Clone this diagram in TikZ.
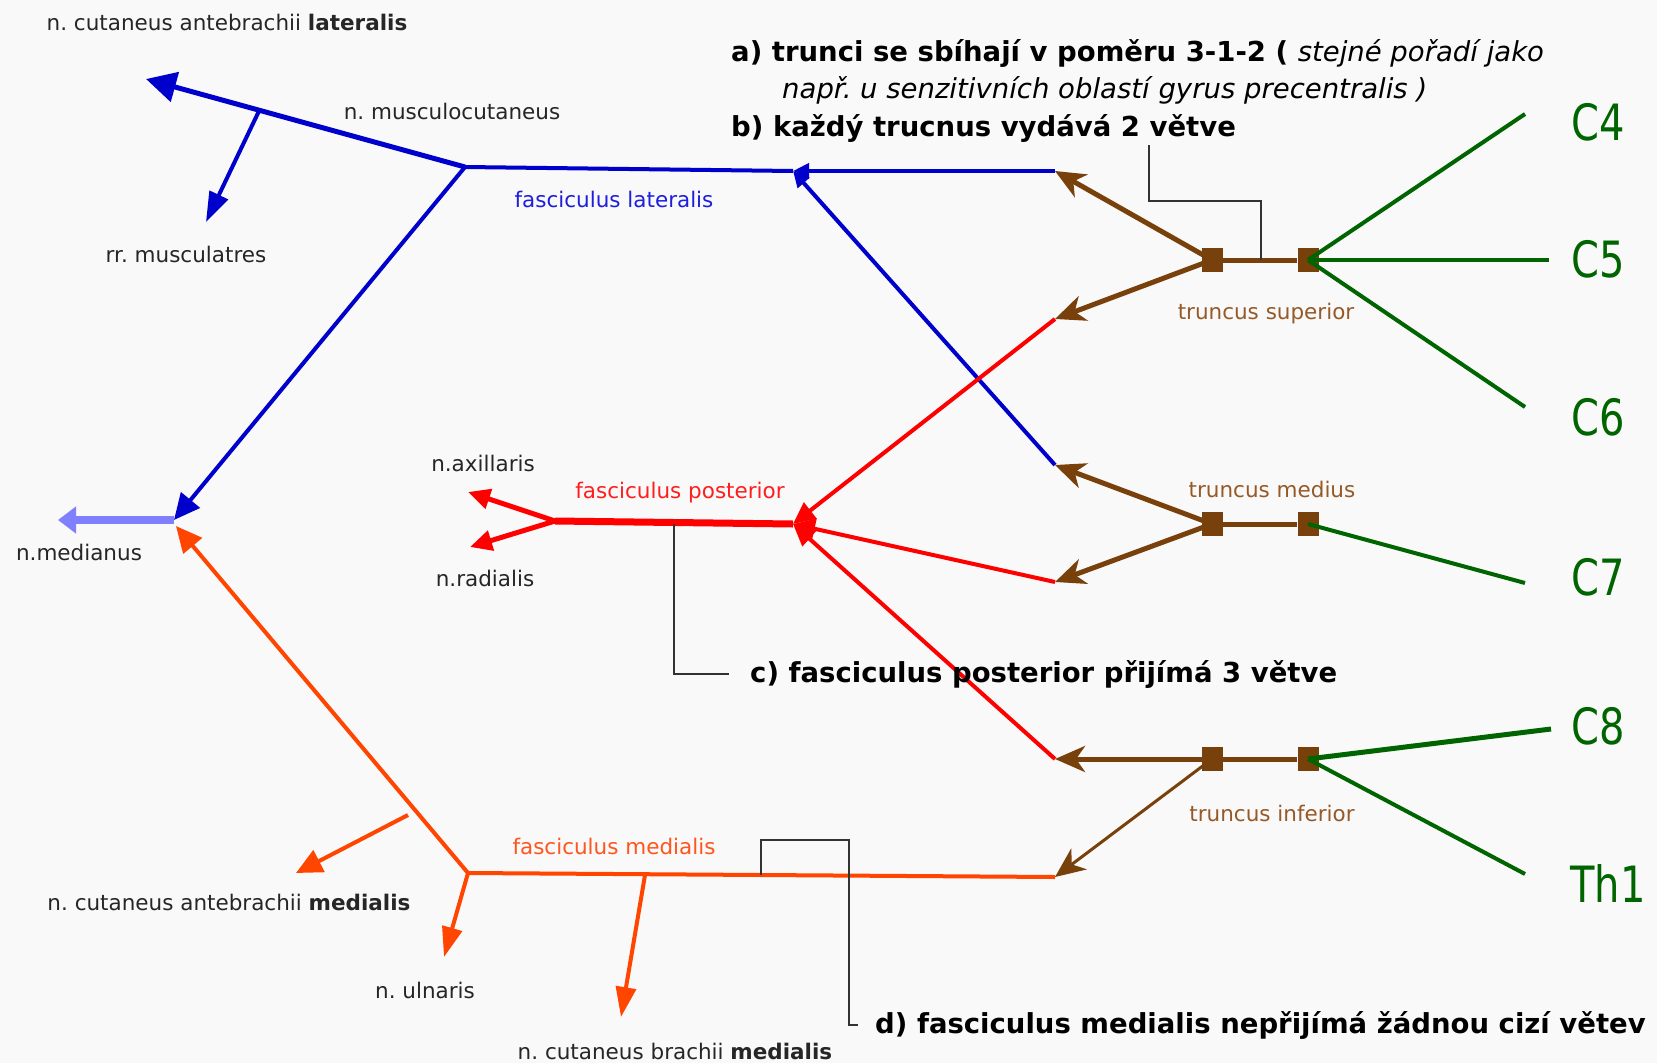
\documentclass[tikz,border=0pt]{standalone}
\usepackage{fontspec}
\setmainfont{DejaVu Sans}
\newfontfamily\cfont{DejaVu Sans}[FakeStretch=0.8]
\usetikzlibrary{arrows.meta}
\definecolor{bgc}{RGB}{249,249,249}
\definecolor{nblue}{RGB}{0,0,204}
\definecolor{lblue}{RGB}{128,128,255}
\definecolor{nred}{RGB}{255,0,0}
\definecolor{norange}{RGB}{255,69,0}
\definecolor{nbrown}{RGB}{120,64,10}
\definecolor{tbrown}{RGB}{150,90,40}
\definecolor{ngreen}{RGB}{0,100,0}
\definecolor{tblue}{RGB}{30,30,220}
\definecolor{tred}{RGB}{255,30,30}
\definecolor{torange}{RGB}{255,85,30}
\frenchspacing
\begin{document}
\frenchspacing
\begin{tikzpicture}[x=1pt,y=-1pt,
  lbl/.style={font=\fontsize{21.5}{24}\selectfont, text=black!85, inner sep=0pt},
  note/.style={font=\fontsize{27.5}{30}\selectfont, text=black, inner sep=0pt, anchor=west},
  clbl/.style={font=\cfont\fontsize{50}{52}\selectfont, text=ngreen, inner sep=0pt},
  nerve/.style={line width=4pt},
  tipT/.style={-{Triangle[length=26pt,width=24pt]}},
  tipN/.style={-{Triangle[length=30pt,width=20pt]}},
  tipsm/.style={-{Triangle[length=16pt,width=15pt]}},
  tipmd/.style={-{Triangle[length=22pt,width=20pt]}},
  tipS/.style={-{Stealth[length=30pt,width=26pt,inset=9pt]}},
  sq/.style={fill=nbrown, minimum width=21pt, minimum height=24pt, inner sep=0pt},
  leader/.style={line width=1.3pt, draw=black!80}
]
\fill[bgc] (0,0) rectangle (1657,1063);
\useasboundingbox (0,0) rectangle (1657,1063);

% ---------- coordinates ----------
\coordinate (FLj) at (465,167);
\coordinate (FLr) at (793,171);
\coordinate (BS1) at (1055,171);
\coordinate (BS2) at (1055,319);
\coordinate (BM1) at (1055,465);
\coordinate (BM2) at (1055,582);
\coordinate (BI1) at (1055,759);
\coordinate (BI2) at (1055,877);
\coordinate (MC) at (146,79);
\coordinate (MCb) at (259,111);
\coordinate (RM) at (206,222);
\coordinate (MJ) at (174,520);
\coordinate (MJo) at (176,526);
\coordinate (MED) at (58,520);
\coordinate (FPr) at (793,524);
\coordinate (FPl) at (555,521);
\coordinate (AX) at (468,492);
\coordinate (RA) at (470,547);
\coordinate (FMl) at (468,873);
\coordinate (CAMb) at (408,815);
\coordinate (CAM) at (296,873);
\coordinate (UL) at (444,957);
\coordinate (CBMb) at (645,875);
\coordinate (CBM) at (621,1017);
\coordinate (C4e) at (1525,114);
\coordinate (C5e) at (1549,260);
\coordinate (C6e) at (1525,407);
\coordinate (C7e) at (1525,583);
\coordinate (C8e) at (1551,729);
\coordinate (Th1e) at (1525,874);

% ---------- trunk squares ----------
\node[sq] (ts1) at (1212,260) {};
\node[sq] (ts2) at (1308,260) {};
\node[sq] (tm1) at (1212,524) {};
\node[sq] (tm2) at (1308,524) {};
\node[sq] (ti1) at (1212,759) {};
\node[sq] (ti2) at (1308,759) {};

% ---------- green roots ----------
\draw[ngreen, nerve] (ts2.center) -- (C4e);
\draw[ngreen, nerve] (ts2.center) -- (C5e);
\draw[ngreen, nerve] (ts2.center) -- (C6e);
\draw[ngreen, nerve] (tm2.center) -- (C7e);
\draw[ngreen, line width=5pt] (ti2.center) -- (C8e);
\draw[ngreen, nerve] (ti2.center) -- (Th1e);

% ---------- brown trunks ----------
\draw[nbrown, line width=5pt] (ts1) -- (ts2);
\draw[nbrown, line width=5pt] (tm1) -- (tm2);
\draw[nbrown, line width=5pt] (ti1) -- (ti2);
\draw[nbrown, line width=5pt, tipS] (ts1.center) -- (BS1);
\draw[nbrown, line width=5pt, tipS] (ts1.center) -- (BS2);
\draw[nbrown, line width=5pt, tipS] (tm1.center) -- (BM1);
\draw[nbrown, line width=5pt, tipS] (tm1.center) -- (BM2);
\draw[nbrown, line width=5pt, tipS] (ti1.center) -- (BI1);
\draw[nbrown, line width=3pt, tipS] (ti1.center) -- (BI2);

% ---------- blue (lateralis) ----------
\draw[nblue, nerve, tipsm] (BS1) -- (FLr);
\draw[nblue, nerve, tipsm] (BM1) -- (FLr);
\draw[nblue, nerve] (FLr) -- (FLj);
\draw[nblue, line width=5pt, -{Triangle[length=30pt,width=30pt]}] (FLj) -- (MC);
\draw[nblue, nerve, tipN] (MCb) -- (RM);
\draw[nblue, nerve, tipT] (FLj) -- (MJ);
\draw[lblue, line width=8pt, -{Triangle[length=18pt,width=26pt]}] (MJ) -- (MED);

% ---------- red (posterior) ----------
\draw[nred, nerve, tipmd] (BS2) -- (FPr);
\draw[nred, nerve, tipmd] (BM2) -- (FPr);
\draw[nred, nerve, tipmd] (BI1) -- (FPr);
\draw[nred, line width=7pt] (FPr) -- (FPl);
\draw[nred, line width=5pt, tipmd] (FPl) -- (AX);
\draw[nred, line width=5pt, tipmd] (FPl) -- (RA);

% ---------- orange (medialis) ----------
\draw[norange, nerve] (BI2) -- (FMl);
\draw[norange, nerve, tipT] (FMl) -- (MJo);
\draw[norange, nerve, tipT] (CAMb) -- (CAM);
\draw[norange, nerve, tipN] (FMl) -- (UL);
\draw[norange, nerve, tipN] (CBMb) -- (CBM);

% ---------- labels ----------
\node[lbl] (lcal) at (227,22) {n. cutaneus antebrachii \textbf{lateralis}};
\node[lbl] (lmc) at (452,111) {n. musculocutaneus};
\node[lbl] (lrm) at (186,254) {rr. musculatres};
\node[lbl, text=tblue] (lfl) at (614,199) {fasciculus lateralis};
\node[lbl] (lax) at (483,463) {n.axillaris};
\node[lbl, text=tred] (lfp) at (680,493) {fasciculus posterior};
\node[lbl] (lmed) at (79,552) {n.medianus};
\node[lbl] (lra) at (485,578) {n.radialis};
\node[lbl, text=torange] (lfm) at (614,846) {fasciculus medialis};
\node[lbl] (lcam) at (229,902) {n. cutaneus antebrachii \textbf{medialis}};
\node[lbl] (lul) at (425,990) {n. ulnaris};
\node[lbl] (lcbm) at (675,1051) {n. cutaneus brachii \textbf{medialis}};
\node[lbl, text=tbrown] (lts) at (1266,314) {truncus superior};
\node[lbl, text=tbrown] (ltm) at (1272,489) {truncus medius};
\node[lbl, text=tbrown] (lti) at (1272,813) {truncus inferior};

\node[clbl] (lc4) at (1598,122) {C4};
\node[clbl] (lc5) at (1598,259) {C5};
\node[clbl] (lc6) at (1598,417) {C6};
\node[clbl] (lc7) at (1598,577) {C7};
\node[clbl] (lc8) at (1598,726) {C8};
\node[clbl] (lth1) at (1608,883) {Th1};

% ---------- notes ----------
\node[note] (na) at (731,53) {\bfseries a) trunci se sbíhají v poměru 3-1-2 ( \mdseries\itshape stejné pořadí jako};
\node[note] (na2) at (782,90) {\itshape např. u senzitivních oblastí gyrus precentralis )};
\node[note] (nb) at (731,128) {\bfseries b) každý trucnus vydává 2 větve};
\node[note] (nc) at (750,674) {\bfseries c) fasciculus posterior přijímá 3 větve};
\node[note] (nd) at (875,1025) {\bfseries d) fasciculus medialis nepřijímá žádnou cizí větev};

% ---------- leaders ----------
\coordinate (Lb0) at (1149,145);
\coordinate (Lb1) at (1261,260);
\draw[leader] (Lb0) |- (1261,201) -- (Lb1);
\coordinate (Lc0) at (674,524);
\coordinate (Lc1) at (729,674);
\draw[leader] (Lc0) |- (Lc1);
\coordinate (Ld0) at (761,875);
\coordinate (Ld1) at (858,1025);
\draw[leader] (Ld0) -- (761,840) -- (849,840) |- (Ld1);
\end{tikzpicture}
\end{document}
